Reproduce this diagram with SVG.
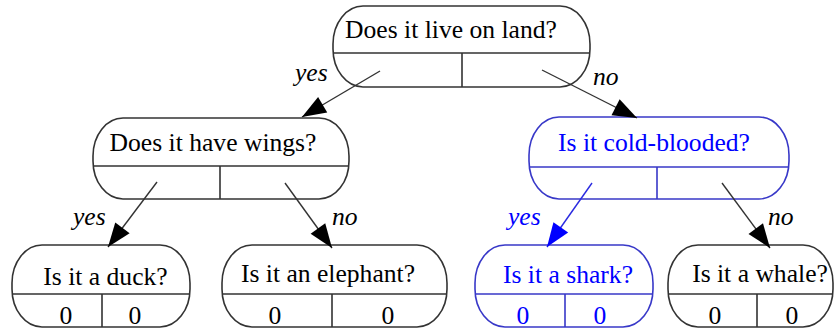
<svg xmlns="http://www.w3.org/2000/svg" width="835" height="329" viewBox="0 0 835 329">
  <style>
    .box { fill: #ffffff; stroke: #333333; stroke-width: 1.6; }
    .box.hl { stroke: #3838c8; }
    .sep { stroke: #333333; stroke-width: 1.6; fill: none; }
    .sep.hl { stroke: #3838c8; }
    .lbl { font-family: "Liberation Serif", "Times New Roman", serif; font-size: 25.6px; fill: #000000; text-anchor: middle; }
    .lbl.hl { fill: #0000ff; }
    .edge { stroke: #333333; stroke-width: 1.4; fill: none; marker-end: url(#ah); }
    .edge.hl { stroke: #2a2ae0; marker-end: url(#ahb); }
    .elbl { font-family: "Liberation Serif", "Times New Roman", serif; font-size: 25.6px; font-style: italic; fill: #000000; }
    .elbl.hl { fill: #0000ff; }
  </style>
  <defs>
    <marker id="ah" markerUnits="userSpaceOnUse" markerWidth="26" markerHeight="20" viewBox="-25 -10 26 20" refX="0" refY="0" orient="auto">
      <path d="M0,0 L-24,-9 L-24,9 Z" fill="#000000"/>
    </marker>
    <marker id="ahb" markerUnits="userSpaceOnUse" markerWidth="26" markerHeight="20" viewBox="-25 -10 26 20" refX="0" refY="0" orient="auto">
      <path d="M0,0 L-24,-9 L-24,9 Z" fill="#0000ff"/>
    </marker>
  </defs>

  <!-- root question -->
  <g id="land">
    <rect class="box" x="333" y="6" width="257" height="81" rx="30" ry="38"/>
    <path class="sep" d="M333,53 H590 M462,53 V87"/>
    <text class="lbl" x="451" y="37.5">Does it live on land?</text>
  </g>

  <g id="wings">
    <rect class="box" x="93" y="118" width="256" height="81" rx="30" ry="38"/>
    <path class="sep" d="M93,166 H349 M220,166 V199"/>
    <text class="lbl" x="213" y="151">Does it have wings?</text>
  </g>

  <g id="cold">
    <rect class="box hl" x="529" y="117" width="260" height="82" rx="30" ry="38"/>
    <path class="sep hl" d="M529,167 H789 M657,167 V199"/>
    <text class="lbl hl" x="654" y="151">Is it cold-blooded?</text>
  </g>

  <g id="duck">
    <rect class="box" x="12" y="245" width="178" height="82" rx="30" ry="38"/>
    <path class="sep" d="M12,294 H190 M102,294 V327"/>
    <text class="lbl" x="105.5" y="285">Is it a duck?</text>
    <text class="lbl" x="66" y="324">0</text>
    <text class="lbl" x="135" y="324">0</text>
  </g>

  <g id="elephant">
    <rect class="box" x="222" y="245" width="225" height="82" rx="30" ry="38"/>
    <path class="sep" d="M222,294 H447 M332,294 V327"/>
    <text class="lbl" x="328" y="282">Is it an elephant?</text>
    <text class="lbl" x="275" y="324">0</text>
    <text class="lbl" x="388" y="324">0</text>
  </g>

  <g id="shark">
    <rect class="box hl" x="475" y="245" width="178" height="82" rx="30" ry="38"/>
    <path class="sep hl" d="M475,294 H653 M565,294 V327"/>
    <text class="lbl hl" x="568" y="283">Is it a shark?</text>
    <text class="lbl hl" x="523" y="324">0</text>
    <text class="lbl hl" x="600" y="324">0</text>
  </g>

  <g id="whale">
    <rect class="box" x="668" y="245" width="165" height="82" rx="30" ry="38"/>
    <path class="sep" d="M668,294 H833 M757,294 V327"/>
    <text class="lbl" x="760" y="282">Is it a whale?</text>
    <text class="lbl" x="715" y="324">0</text>
    <text class="lbl" x="792" y="324">0</text>
  </g>

  <!-- yes / no branches -->
  <g id="edges">
    <line class="edge" x1="380" y1="71" x2="302" y2="117"/>
    <line class="edge" x1="542" y1="70" x2="637" y2="118"/>
    <line class="edge" x1="157" y1="182" x2="108" y2="247"/>
    <line class="edge" x1="285" y1="183" x2="332" y2="248"/>
    <line class="edge hl" x1="592" y1="183" x2="547" y2="247"/>
    <line class="edge" x1="722" y1="183" x2="770" y2="248"/>
    <text class="elbl" x="295" y="81">yes</text>
    <text class="elbl" x="593" y="85">no</text>
    <text class="elbl" x="73" y="225">yes</text>
    <text class="elbl" x="332" y="225">no</text>
    <text class="elbl hl" x="508" y="225">yes</text>
    <text class="elbl" x="768" y="225">no</text>
  </g>
</svg>
